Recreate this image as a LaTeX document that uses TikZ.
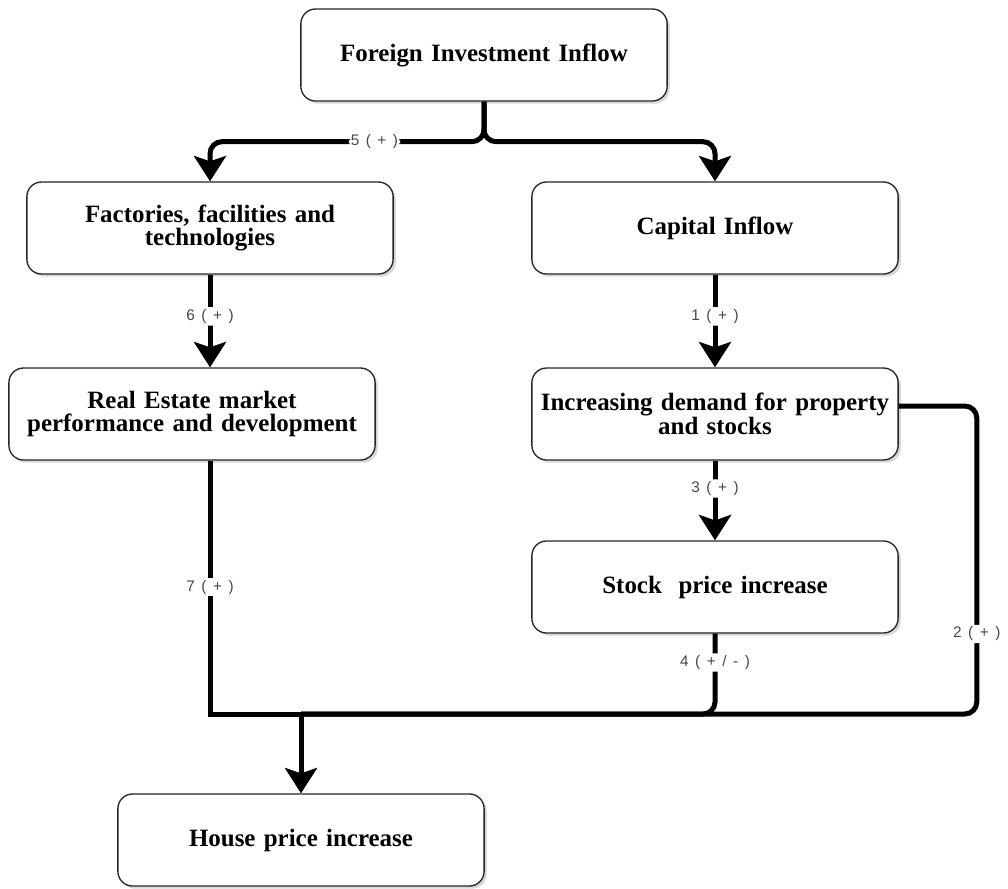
\documentclass[tikz,border=0pt]{standalone}
\usepackage{fontspec}
\setmainfont{Liberation Serif}
\newfontfamily\lblfont[LetterSpace=5, WordSpace=1.3]{Liberation Sans}
\usetikzlibrary{arrows.meta, positioning, shadows}
\tikzstyle{box} = [
    rectangle, 
    rounded corners=11pt, 
    minimum width=273pt, 
    minimum height=69pt,
    text width=268pt,
    align=center, 
    draw=black!85, 
    line width=1pt,
    fill=white,
    drop shadow={shadow xshift=2pt, shadow yshift=-2pt, fill=black!30},
    font=\fontsize{18.7pt}{17.5pt}\selectfont\bfseries
]
\tikzstyle{line} = [line width=3.75pt, rounded corners=9pt]
\tikzstyle{arrow} = [line, -{Stealth[length=19pt, width=24pt, inset=4pt]}]
\tikzstyle{lbl} = [fill=white, inner sep=1.5pt, text=black!72, font=\lblfont\fontsize{11.5pt}{13pt}\selectfont]

\begin{document}
\begin{tikzpicture}[x=0.75pt, y=-0.75pt]
\useasboundingbox (0,0) rectangle (1008,889);

% Nodes
\node (foreign) [box] at (484,55) {Foreign Investment Inflow};
\node (factories) [box] at (210,228) {Factories, facilities and\\technologies};
\node (capital) [box] at (715,228) {Capital Inflow};
\node (realestate) [box] at (192,414) {Real Estate market\\performance and development};
\node (demand) [box] at (715,414) {Increasing demand for property\\and stocks};
\node (stock) [box] at (715,587) {Stock\ \ price increase};
\node (house) [box] at (301,840) {House price increase};
\coordinate (join) at (301,714);

% Arrows
\draw [arrow] (foreign.south) -- ++(0,40) -| node[lbl, pos=0.2] {5 ( + )} (factories.north);
\draw [arrow] (foreign.south) -- ++(0,40) -| (capital.north);
\draw [arrow] (factories.south) -- node[lbl, pos=0.45] {6 ( + )} (factories.south |- realestate.north);
\draw [arrow] (capital) -- node[lbl, pos=0.45] {1 ( + )} (demand);
\draw [arrow] (demand) -- node[lbl, pos=0.35] {3 ( + )} (stock);
\draw [line, sharp corners] (factories.south |- realestate.south) -- node[lbl] {7 ( + )} (factories.south |- join) -- (join);
\draw [line] (stock.south) -- node[lbl, pos=0.36] {4 ( + / - )} (stock.south |- join) -- (join);
\draw [line] ([yshift=6pt]demand.east) -- ++(78,0) |- node[lbl, pos=0.37] {2 ( + )} (join);
\draw [arrow] (join) -- (house.north);

\end{tikzpicture}
\end{document}
